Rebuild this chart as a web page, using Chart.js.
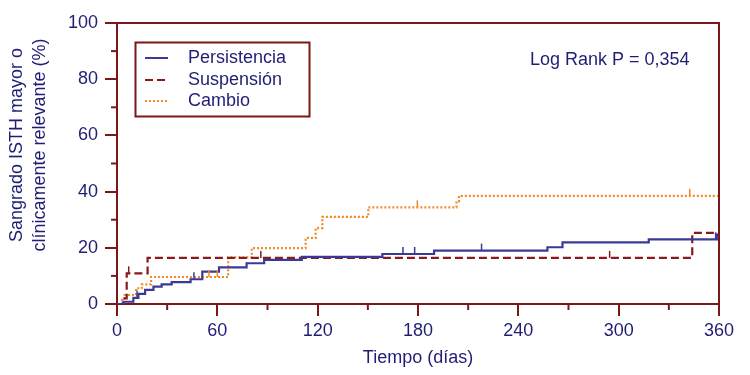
<!DOCTYPE html>
<html>
<head>
<meta charset="utf-8">
<script src="https://cdn.jsdelivr.net/npm/chart.js@4/dist/chart.umd.min.js"></script>
<style>
  html, body { margin: 0; padding: 0; background: #fff; }
  #wrap { width: 750px; height: 375px; }
</style>
</head>
<body>
<div id="wrap"><canvas id="km" width="750" height="375"></canvas></div>
<script>
// Kaplan-Meier curves: day of each step and cumulative % after the step
const persDays = [0, 4, 9.8, 12.8, 16.8, 21.8, 26.7, 32.7, 44, 51, 61, 77.5, 88, 110.5, 158.7, 189.6, 257.4, 266.4, 318, 358.7, 360];
const persVals = [0, 0.8, 2.2, 3.6, 5.0, 6.2, 7.0, 7.8, 8.8, 11.5, 13.0, 14.5, 15.7, 16.8, 17.8, 19.0, 20.2, 21.9, 23.0, 24.7, 24.7];

const suspDays = [0, 3.5, 5.8, 18.3, 344, 360];
const suspVals = [0, 2.0, 10.9, 16.4, 25.3, 25.3];

const cambDays = [0, 3, 4.5, 11.4, 14.8, 20.4, 66.5, 80.6, 112.8, 118.8, 122.8, 150.3, 203, 204.5, 360];
const cambVals = [0, 1.5, 3.2, 5.6, 7.0, 9.6, 16.6, 19.9, 23.5, 27.0, 31.0, 34.4, 36.5, 38.5, 38.5];

// censored observations (days)
const persCens = [12, 46, 171, 178, 218, 358];
const suspCens = [7, 86, 294.6];
const cambCens = [55, 60, 179.6, 342.5];

const seriesNames = ['Persistencia', 'Suspensión', 'Cambio'];
const xTicks = [0, 60, 120, 180, 240, 300, 360];
const yTicks = [0, 20, 40, 60, 80, 100];

const axisColor = '#7a1818';
const textColor = '#1e1e74';
const fontFam = '"Liberation Sans", Arial, sans-serif';

function toPoints(days, vals) {
    return days.map((d, i) => ({ x: d, y: vals[i] }));
}

function stepValue(days, vals, t) {
    let v = vals[0];
    for (let i = 0; i < days.length; i++) {
        if (days[i] <= t) v = vals[i];
    }
    return v;
}

// minor ticks, frame, censor marks, legend box and axis titles
const extras = {
    id: 'extras',
    afterDatasetsDraw(chart) {
        const ctx = chart.ctx;
        const xs = chart.scales.x, ys = chart.scales.y;
        const a = chart.chartArea;

        // censor marks
        const cens = [[persCens, persDays, persVals], [suspCens, suspDays, suspVals], [cambCens, cambDays, cambVals]];
        ctx.save();
        cens.forEach((c, k) => {
            const ds = chart.data.datasets[k];
            ctx.strokeStyle = ds.borderColor;
            ctx.lineWidth = 1.5;
            c[0].forEach(d => {
                const px = xs.getPixelForValue(d);
                const py = ys.getPixelForValue(stepValue(c[1], c[2], d));
                ctx.beginPath();
                ctx.moveTo(px, py);
                ctx.lineTo(px, py - 7);
                ctx.stroke();
            });
        });

        // frame top + right
        ctx.strokeStyle = axisColor;
        ctx.lineWidth = 2;
        ctx.beginPath();
        ctx.moveTo(a.left, a.top);
        ctx.lineTo(a.right, a.top);
        ctx.lineTo(a.right, a.bottom);
        ctx.stroke();

        // minor ticks
        ctx.lineWidth = 2;
        for (let v = 10; v < 100; v += 20) {
            const py = ys.getPixelForValue(v);
            ctx.beginPath();
            ctx.moveTo(a.left - 6, py);
            ctx.lineTo(a.left, py);
            ctx.stroke();
        }
        for (let d = 30; d < 360; d += 60) {
            const px = xs.getPixelForValue(d);
            ctx.beginPath();
            ctx.moveTo(px, a.bottom);
            ctx.lineTo(px, a.bottom + 6);
            ctx.stroke();
        }

        // legend
        ctx.lineWidth = 2;
        ctx.strokeStyle = axisColor;
        ctx.strokeRect(135.5, 42.5, 174, 74);
        ctx.font = '18px ' + fontFam;
        ctx.textBaseline = 'middle';
        ctx.textAlign = 'left';
        const rows = [58, 80, 101];
        chart.data.datasets.forEach((ds, i) => {
            ctx.strokeStyle = ds.borderColor;
            ctx.lineWidth = 2;
            ctx.setLineDash(ds.borderDash || []);
            ctx.beginPath();
            ctx.moveTo(145, rows[i]);
            ctx.lineTo(168, rows[i]);
            ctx.stroke();
            ctx.setLineDash([]);
            ctx.fillStyle = textColor;
            ctx.fillText(seriesNames[i], 188, rows[i]);
        });

        // annotation
        ctx.fillText('Log Rank P = 0,354', 530, 60);

        // axis titles
        ctx.textAlign = 'center';
        ctx.fillText('Tiempo (días)', (a.left + a.right) / 2, 358);
        ctx.save();
        ctx.translate(17, 145);
        ctx.rotate(-Math.PI / 2);
        ctx.fillText('Sangrado ISTH mayor o', 0, 0);
        ctx.fillText('clínicamente relevante (%)', 0, 23);
        ctx.restore();
        ctx.restore();
    }
};

new Chart(document.getElementById('km'), {
    type: 'line',
    data: {
        datasets: [{
            label: seriesNames[0],
            data: toPoints(persDays, persVals),
            borderColor: '#3a3a96',
            borderWidth: 2.2,
            stepped: true,
            pointRadius: 0,
            fill: false
        }, {
            label: seriesNames[1],
            data: toPoints(suspDays, suspVals),
            borderColor: '#8a1a1a',
            borderWidth: 2.2,
            borderDash: [8, 4],
            stepped: true,
            pointRadius: 0,
            fill: false
        }, {
            label: seriesNames[2],
            data: toPoints(cambDays, cambVals),
            borderColor: '#f08a28',
            borderWidth: 2.2,
            borderDash: [2, 2],
            stepped: true,
            pointRadius: 0,
            fill: false
        }]
    },
    options: {
        responsive: false,
        animation: false,
        devicePixelRatio: 1,
        layout: { padding: { top: 23, right: 31, left: 0, bottom: 0 } },
        plugins: {
            legend: { display: false },
            tooltip: { enabled: false }
        },
        scales: {
            x: {
                type: 'linear',
                min: 0,
                max: 360,
                afterBuildTicks(scale) { scale.ticks = xTicks.map(v => ({ value: v })); },
                afterFit(scale) { scale.height = 71; },
                border: { color: axisColor, width: 2 },
                grid: { drawOnChartArea: false, drawTicks: true, tickLength: 12, color: axisColor, lineWidth: 2 },
                ticks: { color: textColor, font: { family: fontFam, size: 18 }, padding: 4, maxRotation: 0 }
            },
            y: {
                min: 0,
                max: 100,
                afterBuildTicks(scale) { scale.ticks = yTicks.map(v => ({ value: v })); },
                afterFit(scale) { scale.width = 117; },
                border: { color: axisColor, width: 2 },
                grid: { drawOnChartArea: false, drawTicks: true, tickLength: 12, color: axisColor, lineWidth: 2 },
                ticks: { color: textColor, font: { family: fontFam, size: 18 }, padding: 7 }
            }
        }
    },
    plugins: [extras]
});
</script>
</body>
</html>
